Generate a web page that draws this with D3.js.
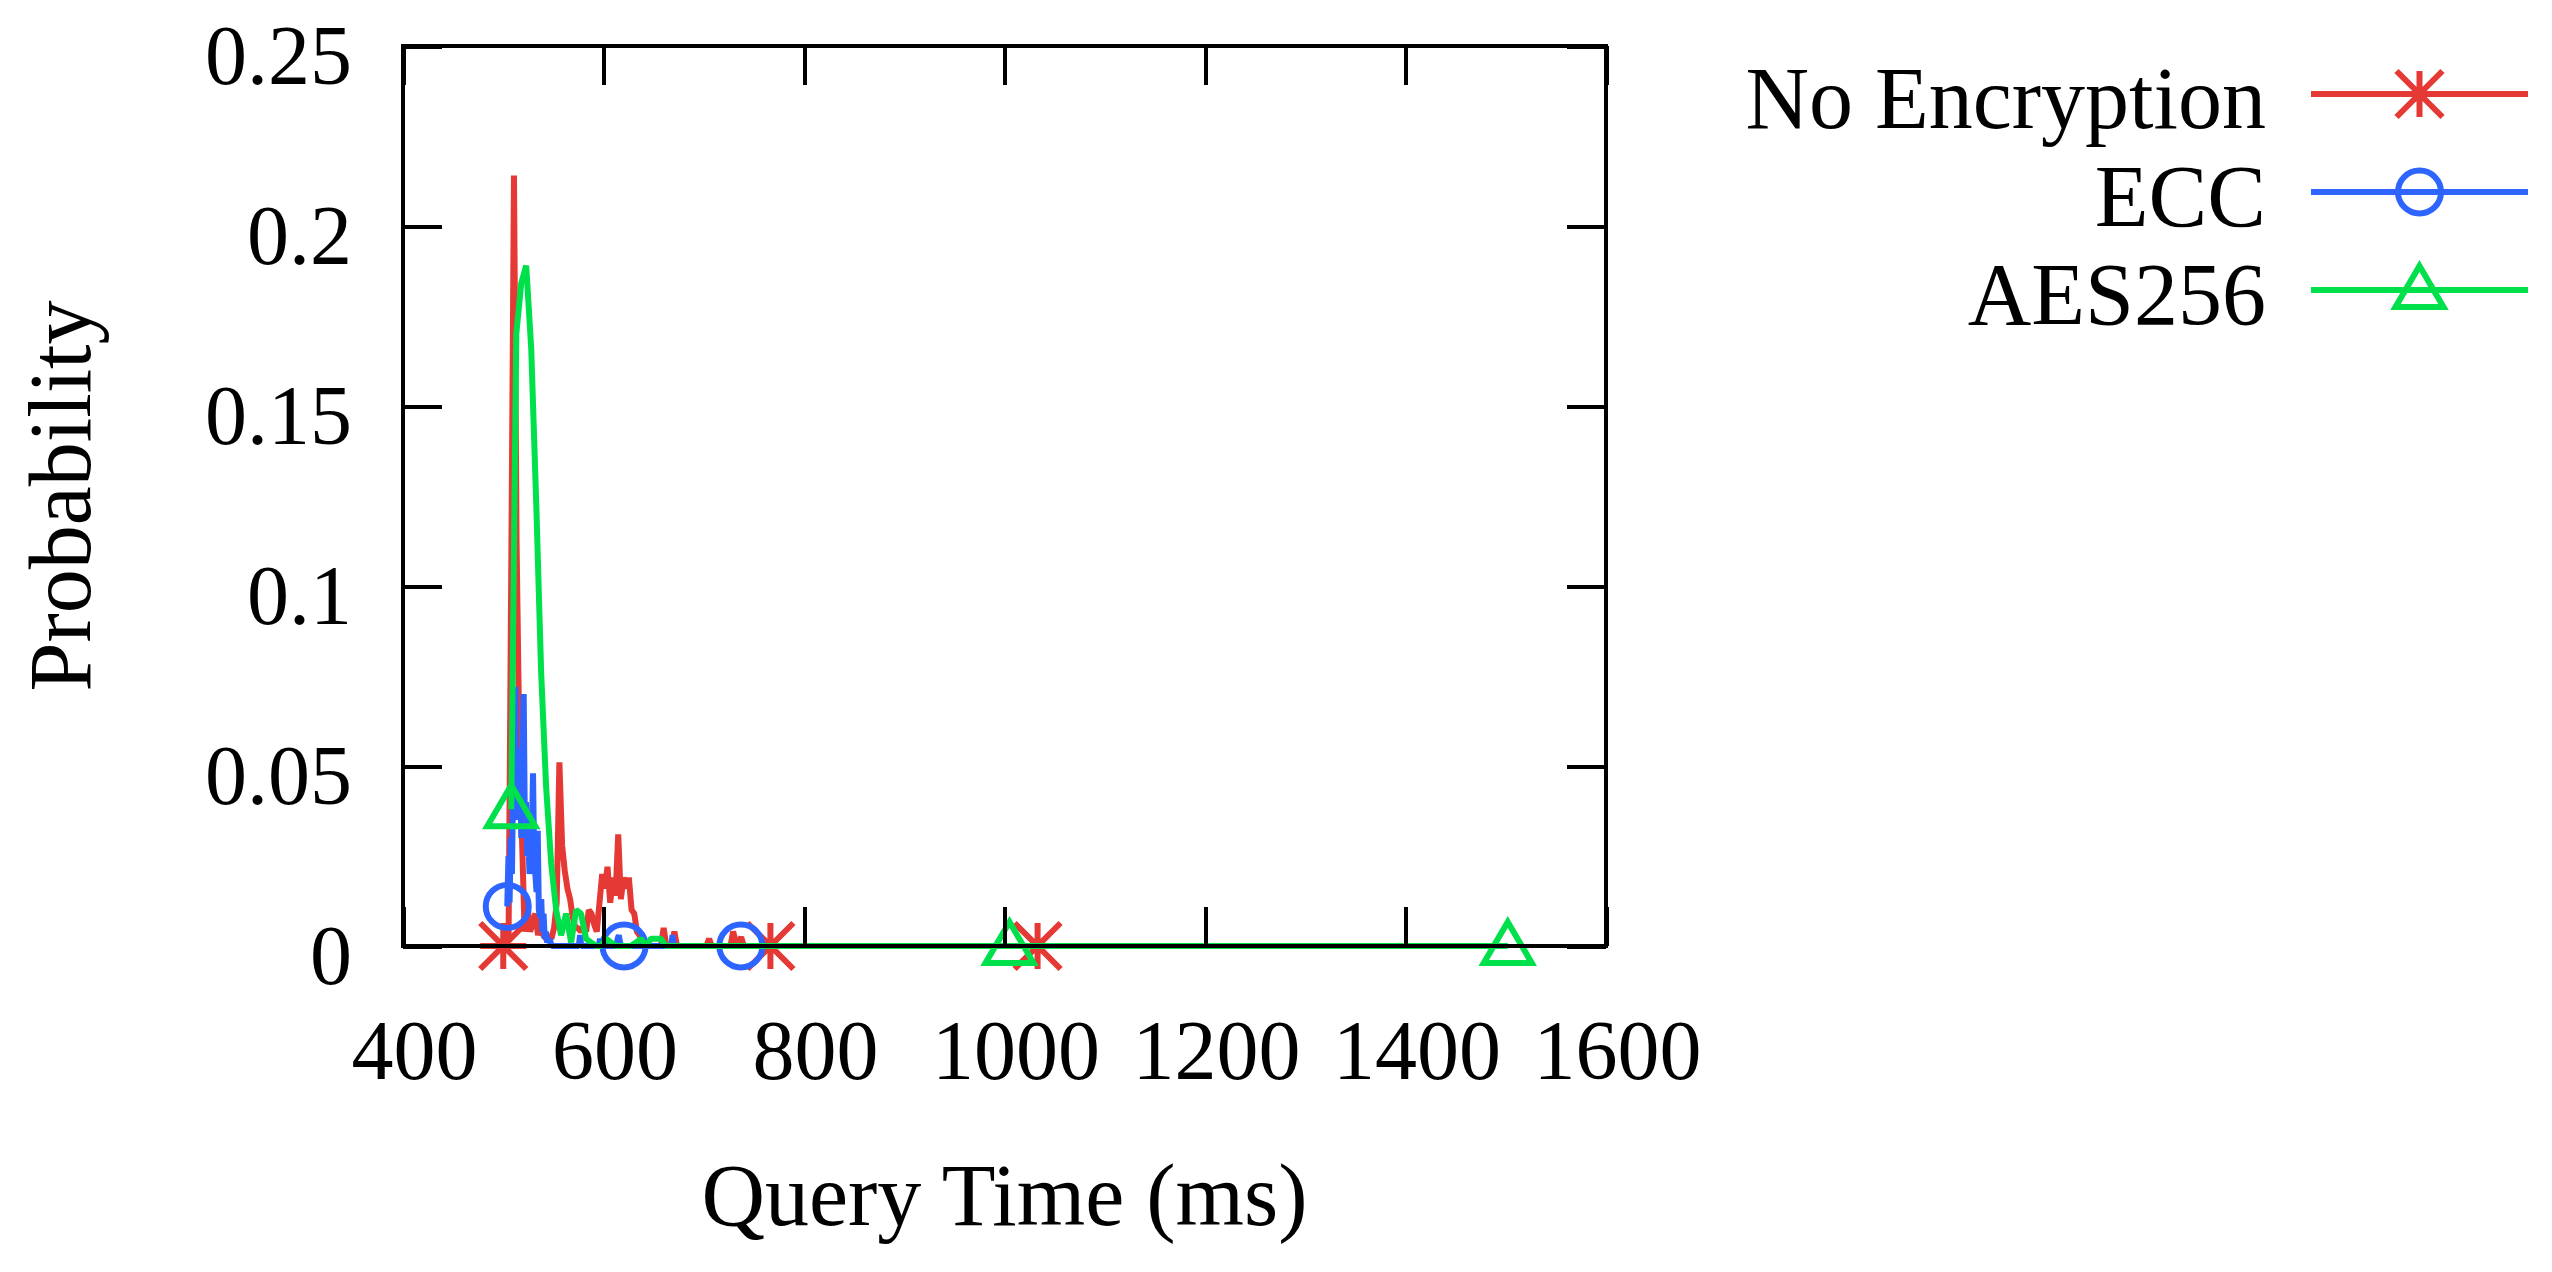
<!DOCTYPE html>
<html lang="en">
<head>
  <meta charset="UTF-8">
  <title>Query Time Probability</title>
  <script src="https://cdn.jsdelivr.net/npm/d3@7/dist/d3.min.js"></script>
  <style>
    body { margin: 0; background: #fff; }
    text { font-family: "Liberation Serif", "Times New Roman", serif; fill: #000; }
  </style>
</head>
<body>
<script>
  var w = 2552, h = 1272

  // query time (ms) and probability
  var noEncTime = [500.0, 502.7, 505.3, 508.0, 510.7, 513.3, 516.0, 518.7, 521.3, 524.0,
    526.7, 529.3, 532.0, 534.7, 537.3, 540.0, 542.7, 545.3, 548.0, 550.7,
    553.3, 556.0, 558.7, 561.3, 564.0, 566.7, 569.3, 572.0, 574.7, 577.3,
    580.0, 582.7, 585.3, 588.0, 590.7, 593.3, 596.0, 598.7, 601.3, 604.0,
    606.7, 609.3, 612.0, 614.7, 617.3, 620.0, 622.7, 625.3, 628.0, 630.7,
    633.3, 636.0, 638.7, 641.3, 644.0, 657.3, 660.0, 662.7, 668.0, 670.7,
    673.3, 702.7, 705.3, 708.0, 726.7, 729.3, 732.0, 734.7, 737.3, 740.0,
    766.5, 1033.0]
  var noEncProb = [0.000, 0.001, 0.002, 0.105, 0.214, 0.112, 0.057, 0.030, 0.004, 0.012,
    0.004, 0.006, 0.009, 0.003, 0.006, 0.003, 0.002, 0.003, 0.002, 0.005,
    0.012, 0.051, 0.028, 0.021, 0.016, 0.013, 0.008, 0.005, 0.005, 0.004,
    0.005, 0.004, 0.010, 0.009, 0.006, 0.004, 0.012, 0.020, 0.016, 0.022,
    0.012, 0.019, 0.014, 0.031, 0.013, 0.019, 0.016, 0.019, 0.010, 0.009,
    0.004, 0.003, 0.001, 0.001, 0.000, 0.000, 0.005, 0.000, 0.000, 0.004,
    0.000, 0.000, 0.002, 0.000, 0.000, 0.004, 0.001, 0.001, 0.0025, 0.000,
    0.000, 0.000]

  var eccTime = [504.0, 505.2, 506.3, 507.5, 508.7, 509.8, 511.0, 512.2, 513.4, 514.5,
    515.7, 516.9, 518.0, 519.2, 520.4, 521.5, 522.7, 523.9, 525.0, 526.2,
    527.4, 528.5, 529.7, 530.9, 532.0, 533.2, 534.4, 535.5, 536.7, 537.9,
    539.0, 540.2, 541.4, 542.5, 543.7, 546.0, 548.4, 575.4, 576.6, 577.8,
    595.3, 596.5, 597.7, 613.0, 614.1, 615.3, 616.5, 617.6, 620.5, 667.6,
    668.8, 670.0, 737.0]
  var eccProb = [0.011, 0.025, 0.012, 0.030, 0.020, 0.045, 0.035, 0.072, 0.040, 0.055,
    0.035, 0.050, 0.030, 0.045, 0.070, 0.035, 0.040, 0.025, 0.030, 0.020,
    0.028, 0.030, 0.048, 0.022, 0.020, 0.015, 0.032, 0.010, 0.008, 0.013,
    0.004, 0.009, 0.002, 0.004, 0.001, 0.002, 0.000, 0.000, 0.003, 0.000,
    0.000, 0.002, 0.000, 0.000, 0.002, 0.003, 0.001, 0.000, 0.000, 0.000,
    0.003, 0.000, 0.000]

  var aesTime = [508.0, 513.0, 517.9, 522.9, 527.9, 532.9, 537.8, 542.8, 547.8, 552.8,
    557.7, 562.7, 567.7, 572.7, 577.6, 582.6, 587.6, 592.6, 597.5, 602.5,
    607.5, 612.5, 627.4, 632.4, 637.3, 642.3, 647.3, 652.3, 657.2, 662.2,
    1005.0, 1502.0]
  var aesProb = [0.038, 0.170, 0.184, 0.189, 0.166, 0.123, 0.076, 0.044, 0.023, 0.010,
    0.003, 0.009, 0.001, 0.010, 0.009, 0.002, 0.001, 0.000, 0.000, 0.002,
    0.001, 0.000, 0.000, 0.001, 0.002, 0.000, 0.002, 0.002, 0.002, 0.000,
    0.000, 0.000]

  // every 100th sample carries a marker
  var noEncMarks = [500.0, 766.5, 1033.0]
  var eccMarks = [504.0, 620.5, 737.0]
  var aesMarks = [508.0, 1005.0, 1502.0]

  var seriesNames = ['No Encryption', 'ECC', 'AES256']
  var colors = ['#e53935', '#2e64ff', '#00e04b']
  var shapes = ['star', 'circle', 'triangle']

  var xTicks = [400, 600, 800, 1000, 1200, 1400, 1600]
  var xTickLabels = ['400', '600', '800', '1000', '1200', '1400', '1600']
  var yTicks = [0, 0.05, 0.1, 0.15, 0.2, 0.25]
  var yTickLabels = ['0', '0.05', '0.1', '0.15', '0.2', '0.25']

  var plotL = 403, plotR = 1606, plotT = 46, plotB = 946
  var tickLen = 39
  var lw = 6

  var xScale = d3.scaleLinear().domain([400, 1600]).range([plotL, plotR])
  var yScale = d3.scaleLinear().domain([0, 0.25]).range([plotB, plotT])

  var svg = d3.select('body').append('svg').attr('width', w).attr('height', h)
  svg.append('rect').attr('width', w).attr('height', h).attr('fill', '#fff')

  var symbolPath = {
    star: 'M0,-23V23M-23,0H23M-23,-23L23,23M23,-23L-23,23',
    circle: 'M21.5,0A21.5,21.5 0 1,1 -21.5,0A21.5,21.5 0 1,1 21.5,0Z',
    triangle: 'M0,-24L24,17L-24,17Z'
  }

  var series = [
    { time: noEncTime, prob: noEncProb, marks: noEncMarks },
    { time: eccTime, prob: eccProb, marks: eccMarks },
    { time: aesTime, prob: aesProb, marks: aesMarks }
  ]

  var line = d3.line().x(function (d) { return xScale(d[0]) }).y(function (d) { return yScale(d[1]) })

  series.forEach(function (s, i) {
    var pts = d3.zip(s.time, s.prob)
    svg.append('path').datum(pts)
      .attr('d', line)
      .attr('fill', 'none')
      .attr('stroke', colors[i])
      .attr('stroke-width', lw)
      .attr('stroke-linejoin', 'bevel')

    var markPts = s.marks.map(function (t) { return [t, s.prob[s.time.indexOf(t)]] })
    svg.selectAll('.mark' + i).data(markPts).enter().append('path')
      .attr('class', 'mark' + i)
      .attr('transform', function (d) { return 'translate(' + xScale(d[0]) + ',' + yScale(d[1]) + ')' })
      .attr('d', symbolPath[shapes[i]])
      .attr('fill', 'none')
      .attr('stroke', colors[i])
      .attr('stroke-width', lw)
  })

  //坐标轴
  function styleAxis(g) {
    g.attr('font-family', null).attr('font-size', null)
    g.select('.domain').remove()
    g.selectAll('.tick line').attr('stroke', '#000').attr('stroke-width', 4)
      .attr('shape-rendering', 'crispEdges')
    g.selectAll('.tick text').attr('font-size', 84)
  }

  svg.append('g').attr('transform', 'translate(0,' + plotB + ')')
    .call(d3.axisBottom(xScale).tickValues(xTicks).tickSizeInner(-tickLen).tickSizeOuter(0)
      .tickFormat(function (d, i) { return xTickLabels[i] }))
    .call(styleAxis)
    .selectAll('.tick text').attr('y', 133).attr('dy', 0).attr('dx', 11)

  svg.append('g').attr('transform', 'translate(0,' + plotT + ')')
    .call(d3.axisTop(xScale).tickValues(xTicks).tickSizeInner(-tickLen).tickSizeOuter(0).tickFormat(''))
    .call(styleAxis)

  svg.append('g').attr('transform', 'translate(' + plotL + ',0)')
    .call(d3.axisLeft(yScale).tickValues(yTicks).tickSizeInner(-tickLen).tickSizeOuter(0)
      .tickFormat(function (d, i) { return yTickLabels[i] }))
    .call(styleAxis)
    .selectAll('.tick text').attr('x', -51).attr('y', 37).attr('dy', 0)

  svg.append('g').attr('transform', 'translate(' + plotR + ',0)')
    .call(d3.axisRight(yScale).tickValues(yTicks).tickSizeInner(-tickLen).tickSizeOuter(0).tickFormat(''))
    .call(styleAxis)

  svg.append('rect')
    .attr('x', plotL).attr('y', plotT).attr('width', plotR - plotL).attr('height', plotB - plotT)
    .attr('fill', 'none').attr('stroke', '#000').attr('stroke-width', 4.5)
    .attr('shape-rendering', 'crispEdges')

  // axis titles
  svg.append('text').text('Query Time (ms)')
    .attr('x', (plotL + plotR) / 2).attr('y', 1225)
    .attr('text-anchor', 'middle').attr('font-size', 88)

  svg.append('text').text('Probability')
    .attr('transform', 'translate(90,' + (plotT + plotB) / 2 + ') rotate(-90)')
    .attr('text-anchor', 'middle').attr('font-size', 88)

  //图例
  var legend = svg.append('g')
  seriesNames.forEach(function (name, i) {
    var ly = 94 + i * 98
    legend.append('text').text(name)
      .attr('x', 2266).attr('y', ly + 34)
      .attr('text-anchor', 'end').attr('font-size', 88)
    legend.append('line')
      .attr('x1', 2311).attr('x2', 2528).attr('y1', ly).attr('y2', ly)
      .attr('stroke', colors[i]).attr('stroke-width', lw)
    legend.append('path')
      .attr('transform', 'translate(2419.5,' + ly + ')')
      .attr('d', symbolPath[shapes[i]])
      .attr('fill', 'none').attr('stroke', colors[i]).attr('stroke-width', lw)
  })
</script>
</body>
</html>
